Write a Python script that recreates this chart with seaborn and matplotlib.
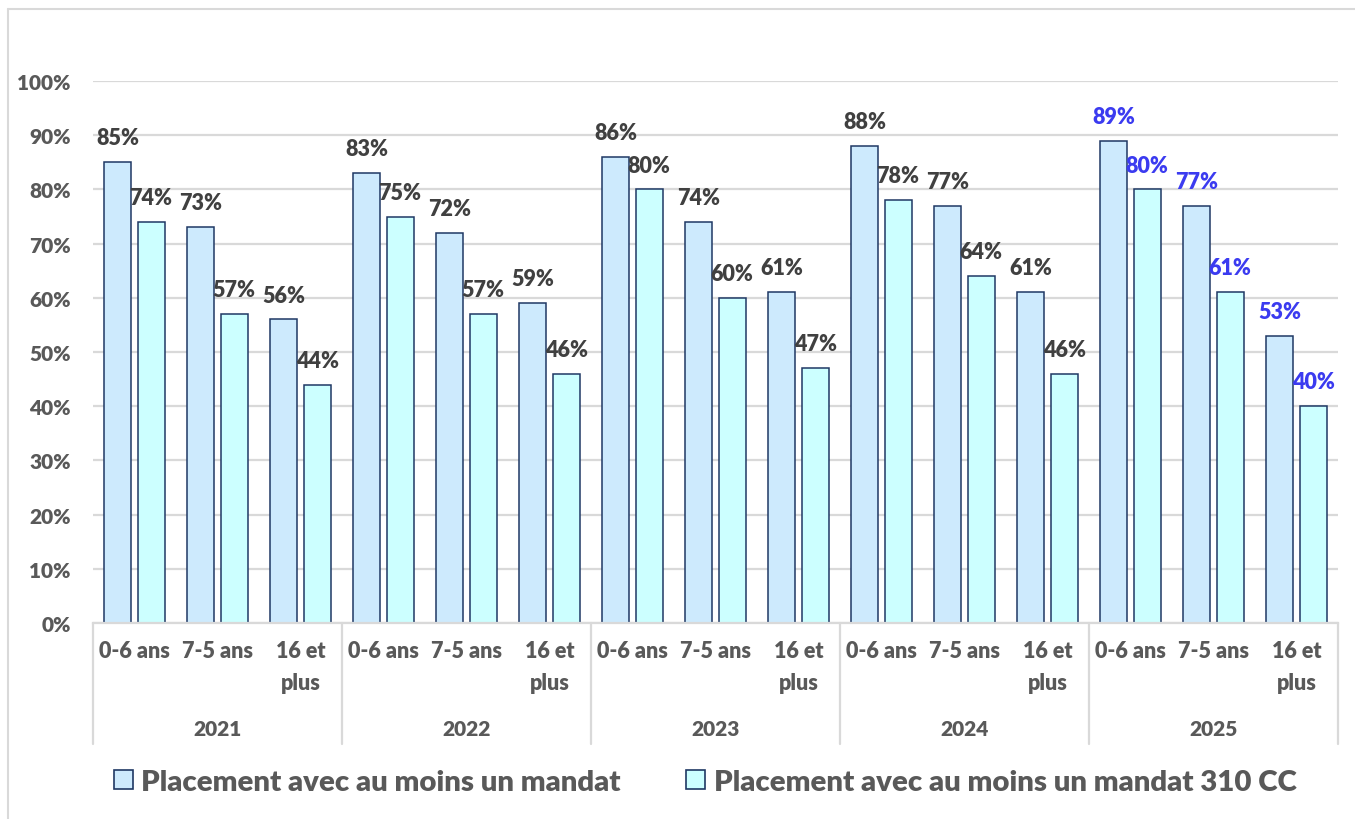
import pandas as pd
import matplotlib.pyplot as plt
import matplotlib.transforms as mtransforms
from matplotlib.patches import Rectangle
import seaborn as sns

# Data
years = ['2021', '2022', '2023', '2024', '2025']
ages = ['0-6 ans', '7-5 ans', '16 et\nplus']
series = ['Placement avec au moins un mandat', 'Placement avec au moins un mandat 310 CC']
mandat = [85, 73, 56, 83, 72, 59, 86, 74, 61, 88, 77, 61, 89, 77, 53]
mandat_310 = [74, 57, 44, 75, 57, 46, 80, 60, 47, 78, 64, 46, 80, 61, 40]

keys = [f'{y}|{a}' for y in years for a in ages]
df = pd.DataFrame({
    'cat': keys * 2,
    'serie': [series[0]] * len(keys) + [series[1]] * len(keys),
    'value': mandat + mandat_310,
})

W = 'heavy'
sns.set_style('white')
plt.rcParams['font.family'] = ['Lato', 'DejaVu Sans']
plt.rcParams['font.weight'] = W

fig = plt.figure(figsize=(13.55, 8.2), dpi=100)
ax = fig.add_axes([93 / 1355, 1 - 624 / 820, 1245 / 1355, 542 / 820])

palette = {series[0]: '#CDEAFD', series[1]: '#CCFFFF'}
sns.barplot(data=df, x='cat', y='value', hue='serie', order=keys, hue_order=series,
            palette=palette, width=0.8, gap=0.19, edgecolor='#1F3864', linewidth=1.1,
            saturation=1, ax=ax, legend=True)

ax.set_ylim(0, 100)
ax.set_xlim(-0.5, len(keys) - 0.5)
ax.set_yticks(range(0, 101, 10))
ax.set_yticklabels([f'{v}%' for v in range(0, 101, 10)], fontsize=15, color='#595959',
                   fontweight=W)
ax.yaxis.grid(True, color='#D9D9D9', linewidth=1.6)
ax.set_axisbelow(True)
ax.tick_params(axis='y', length=0, pad=16)
ax.tick_params(axis='x', length=0, pad=12)
ax.set_xlabel('')
ax.set_ylabel('')
ax.set_xticks(range(len(keys)))
ax.set_xticklabels([k.split('|')[1] for k in keys], fontsize=15.5, color='#595959',
                   fontweight=W, linespacing=1.65)
for s in ['left', 'right', 'top']:
    ax.spines[s].set_visible(False)
ax.spines['bottom'].set_color('#D9D9D9')
ax.spines['bottom'].set_linewidth(1.6)

# data labels
for i, cont in enumerate(ax.containers):
    vals = mandat if i == 0 else mandat_310
    texts = ax.bar_label(cont, labels=[f'{v}%' for v in vals], padding=10,
                         fontsize=15.5, fontweight=W, color='#404040')
    for j, t in enumerate(texts):
        if keys[j].startswith('2025'):
            t.set_color('#3B3BF0')

# year axis with separators
trans = mtransforms.blended_transform_factory(ax.transData, ax.transAxes)
for b in [-0.5, 2.5, 5.5, 8.5, 11.5, 14.5]:
    ax.plot([b, b], [0, -121 / 542], transform=trans, color='#D9D9D9', lw=1.6,
            clip_on=False)
for k, y in enumerate(years):
    ax.text(3 * k + 1, -106 / 542, y, transform=trans, ha='center', va='center',
            fontsize=15, fontweight=W, color='#595959')

# legend at the bottom
ax.legend_.remove()
handles = [Rectangle((0, 0), 1, 1, facecolor=palette[s], edgecolor='#1F3864', lw=1.2)
           for s in series]
fig.legend(handles, series, loc='center', bbox_to_anchor=(705 / 1355, 1 - 783 / 820), ncol=2,
           frameon=False, handlelength=0.65, handleheight=0.65,
           handletextpad=0.3, columnspacing=2.2, labelcolor='#595959',
           prop={'weight': W, 'size': 21.2})

# outer chart frame
fig.add_artist(plt.Line2D([8 / 1355, 8 / 1355], [0, 1 - 10 / 820], color='#D9D9D9', lw=1.5))
fig.add_artist(plt.Line2D([8 / 1355, 1], [1 - 10 / 820, 1 - 10 / 820], color='#D9D9D9', lw=1.5))

fig.savefig('out.png', dpi=100)
